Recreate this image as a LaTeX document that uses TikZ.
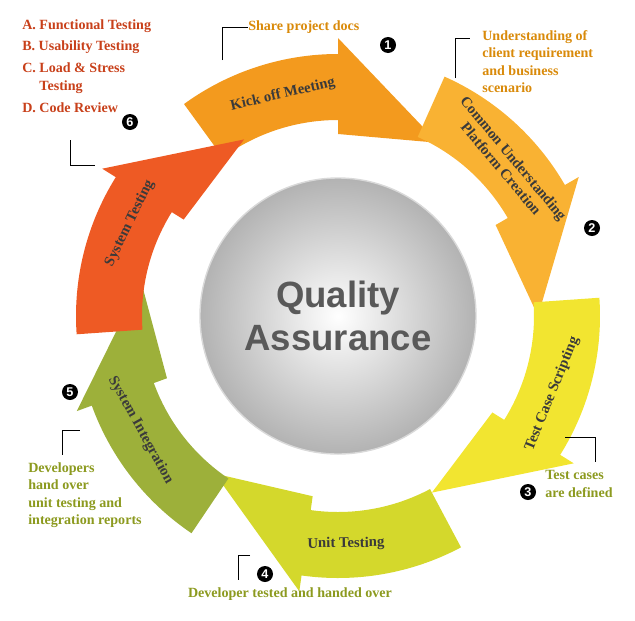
\documentclass[tikz,border=0pt]{standalone}
\usepackage{fontspec}
\setmainfont{Liberation Serif}
\setsansfont{Liberation Sans}
\definecolor{cKick}{HTML}{F39A1E}
\definecolor{cCommon}{HTML}{F9B233}
\definecolor{cScript}{HTML}{F2E530}
\definecolor{cUnit}{HTML}{D4D82C}
\definecolor{cInteg}{HTML}{9DB03A}
\definecolor{cSystem}{HTML}{EE5A24}
\definecolor{cNote}{HTML}{D98A0A}
\definecolor{cList}{HTML}{C8401A}
\definecolor{cOlive}{HTML}{8C9A1F}
\definecolor{cLabel}{HTML}{3A3A3A}

\begin{document}
\begin{tikzpicture}[x=0.025cm,y=0.025cm]
\tikzset{
  steplabel/.style={font=\bfseries\fontsize{10.5}{11.5}\selectfont, text=cLabel, align=center},
  note/.style={font=\bfseries\fontsize{10}{12.5}\selectfont, align=left, inner sep=0pt},
  num/.style={circle, fill=black, text=white, inner sep=0pt, minimum size=0.4cm, font=\bfseries\sffamily\fontsize{9}{9}\selectfont},
  callout/.style={black, line width=0.6pt}
}
\useasboundingbox (-338,-304) rectangle (297,316);
% sphere in the middle
\shade[inner color=white, outer color=black!30] (0,0) circle (138);
\draw[black!15, line width=1pt] (0,0) circle (138);
\node[font=\bfseries\sffamily\fontsize{26}{30}\selectfont, text=black!65, align=center] (qa) at (0,0) {Quality\\Assurance};
% the six arrows
\foreach \c/\col in {100/cKick, 40/cCommon, -22/cScript, -88/cUnit, -150/cInteg, 158/cSystem}{
  \fill[\col] (\c+26:262) arc (\c+26:\c-10:262) -- (\c-10:278) -- (\c-40:200)
    -- (\c-10:182) -- (\c-10:196) arc (\c-10:\c+26:196) -- cycle;
}
\node[steplabel, rotate=13] (kick) at (104:228) {Kick off Meeting};
\node[steplabel, rotate=-50] (common) at (42:228) {Common Understanding\\Platform Creation};
\node[steplabel, rotate=68] (script) at (-20:228) {Test Case Scripting};
\node[steplabel, rotate=1] (unit) at (-88:228) {Unit Testing};
\node[steplabel, rotate=-61] (integ) at (-150:228) {System Integration};
\node[steplabel, rotate=64] (systest) at (156:228) {System Testing};
% numbers
\node[num] (n1) at (50,271) {1};
\node[num] (n2) at (254,88) {2};
\node[num] (n3) at (190,-176) {3};
\node[num] (n4) at (-73,-258) {4};
\node[num] (n5) at (-268,-76) {5};
\node[num] (n6) at (-208,194) {6};
% notes
\node[note, text=cNote, anchor=west] (docs) at (-90,289) {Share project docs};
\coordinate (d1) at (-116,256);
\draw[callout] (d1) -- (-116,289) -- (docs.west);
\node[note, text=cNote, anchor=north west] (under) at (144,286) {Understanding of\\client requirement\\and business\\scenario};
\draw[callout] (117,238) -- (117,278) -- (132,278);
\node[note, text=cOlive, anchor=north west] (cases) at (207,-154) {Test cases\\are defined};
\draw[callout] (227,-121) -- (257,-121) -- (257,-146);
\node[note, text=cOlive, anchor=center] (tested) at (-48,-278) {Developer tested and handed over};
\draw[callout] (-88,-239) -- (-100,-239) -- (-100,-264);
\node[note, text=cOlive, anchor=north west] (devs) at (-310,-146) {Developers\\hand over\\unit testing and\\integration reports};
\draw[callout] (-258,-114) -- (-276,-114) -- (-276,-139);
\node[note, text=cList, anchor=north west] (list) at (-316,297) {A. Functional Testing\\[3pt]B. Usability Testing\\[3pt]C. Load \& Stress\\\phantom{C. }Testing\\[3pt]D. Code Review};
\draw[callout] (-268,176) -- (-268,151) -- (-243,151);
\end{tikzpicture}
\end{document}
